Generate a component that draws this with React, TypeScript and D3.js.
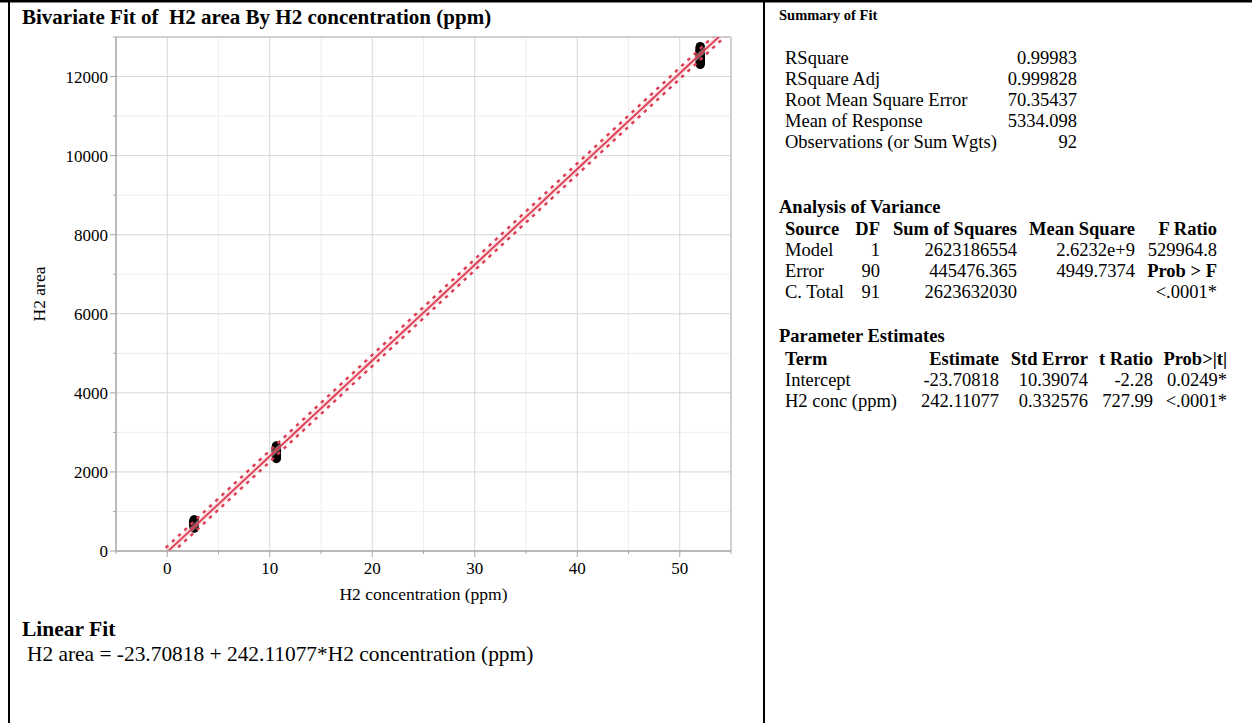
import React from "react";
import * as d3 from "d3";

// H2 concentration levels (ppm) and the measured peak areas at each level
const levelLow = 2.63;
const levelMid = 10.65;
const levelHigh = 52.0;

const areasLow = [612, 645, 668, 690, 701, 715, 722, 734, 748, 760, 771, 783, 655, 680, 697, 709, 726, 739, 752, 764, 590, 628, 661, 694, 705, 718, 731, 744, 757, 576, 789];
const areasMid = [2338, 2372, 2401, 2425, 2447, 2463, 2478, 2490, 2502, 2515, 2527, 2539, 2551, 2563, 2576, 2588, 2601, 2614, 2629, 2645, 2658, 2412, 2455, 2484, 2509, 2533, 2557, 2582, 2607, 2396, 2521];
const areasHigh = [12305, 12342, 12378, 12401, 12433, 12458, 12476, 12494, 12512, 12530, 12547, 12563, 12581, 12598, 12616, 12633, 12651, 12668, 12689, 12712, 12738, 12757, 12420, 12489, 12538, 12572, 12607, 12645, 12366, 12702];

// Linear fit results
const intercept = -23.70818;
const slope = 242.11077;
const rmse = 70.35437;
const nObs = 92;
const meanResponse = 5334.098;
const ssModel = 2623186554;
const tCrit = 1.987;

const xTicks = [0, 10, 20, 30, 40, 50];
const xMinorTicks = [-5, 5, 15, 25, 35, 45, 55];
const yTicks = [0, 2000, 4000, 6000, 8000, 10000, 12000];
const yMinorTicks = [1000, 3000, 5000, 7000, 9000, 11000, 13000];

const summaryLabels = ["RSquare", "RSquare Adj", "Root Mean Square Error", "Mean of Response", "Observations (or Sum Wgts)"];
const summaryValues = ["0.99983", "0.999828", "70.35437", "5334.098", "92"];

const anovaHeader = ["Source", "DF", "Sum of Squares", "Mean Square", "F Ratio"];
const anovaRows = [
  ["Model", "1", "2623186554", "2.6232e+9", "529964.8"],
  ["Error", "90", "445476.365", "4949.7374", "Prob > F"],
  ["C. Total", "91", "2623632030", "", "<.0001*"],
];

const paramHeader = ["Term", "Estimate", "Std Error", "t Ratio", "Prob>|t|"];
const paramRows = [
  ["Intercept", "-23.70818", "10.39074", "-2.28", "0.0249*"],
  ["H2 conc (ppm)", "242.11077", "0.332576", "727.99", "<.0001*"],
];

const W = 1252;
const H = 723;
const plot = { left: 116, right: 731, top: 37, bottom: 551 };
const serif = "'Liberation Serif', 'Times New Roman', serif";
const fitRed = "#dc3d52";
const tableFont = 18.5;

export default function App() {
  const x = d3.scaleLinear().domain([-5, 55]).range([plot.left, plot.right]);
  const y = d3.scaleLinear().domain([0, 13000]).range([plot.bottom, plot.top]);

  const points = [
    ...areasLow.map((v) => [levelLow, v]),
    ...areasMid.map((v) => [levelMid, v]),
    ...areasHigh.map((v) => [levelHigh, v]),
  ];

  const xBar = (meanResponse - intercept) / slope;
  const sxx = ssModel / (slope * slope);
  const grid = d3.range(-5, 55.01, 0.5);
  const fit = (v: number) => intercept + slope * v;
  const indiv = (v: number) => tCrit * rmse * Math.sqrt(1 + 1 / nObs + ((v - xBar) ** 2) / sxx);

  const line = d3.line<number>().x((v) => x(v)).y((v) => y(fit(v)));
  const upper = d3.line<number>().x((v) => x(v)).y((v) => y(fit(v) + indiv(v)));
  const lower = d3.line<number>().x((v) => x(v)).y((v) => y(fit(v) - indiv(v)));
  const band = d3
    .area<number>()
    .x((v) => x(v))
    .y0((v) => y(fit(v) - indiv(v) * 0.6))
    .y1((v) => y(fit(v) + indiv(v) * 0.6));

  const summaryY = [64, 85, 106, 127, 148];
  const anovaRight = [0, 880, 1017, 1135, 1217];
  const anovaY = [235, 256, 277, 298];
  const paramRight = [0, 999, 1088, 1153, 1227];
  const paramY = [365, 386, 407];

  return (
    <svg
      width={W}
      height={H}
      style={{ position: "absolute", left: 0, top: 0, background: "#fff" }}
      fontFamily={serif}
    >
      <defs>
        <clipPath id="plotClip">
          <rect x={plot.left} y={plot.top} width={plot.right - plot.left} height={plot.bottom - plot.top} />
        </clipPath>
      </defs>

      {/* outer report frame */}
      <rect x={0} y={0} width={W} height={2.5} fill="#000" />
      <rect x={8} y={0} width={2} height={H} fill="#000" />
      <rect x={763} y={0} width={2} height={H} fill="#000" />

      <text x={22} y={24} fontSize={21} fontWeight="bold" style={{ whiteSpace: "pre" }}>
        {"Bivariate Fit of  H2 area By H2 concentration (ppm)"}
      </text>

      {/* grid */}
      {xMinorTicks.map((t) => (
        <line key={"xm" + t} x1={x(t)} x2={x(t)} y1={plot.top} y2={plot.bottom} stroke="#eeeeee" />
      ))}
      {yMinorTicks.map((t) => (
        <line key={"ym" + t} x1={plot.left} x2={plot.right} y1={y(t)} y2={y(t)} stroke="#eeeeee" />
      ))}
      {xTicks.map((t) => (
        <line key={"xg" + t} x1={x(t)} x2={x(t)} y1={plot.top} y2={plot.bottom} stroke="#d6d6d6" />
      ))}
      {yTicks.map((t) => (
        <line key={"yg" + t} x1={plot.left} x2={plot.right} y1={y(t)} y2={y(t)} stroke="#d6d6d6" />
      ))}

      {/* frame */}
      <line x1={plot.left} x2={plot.right} y1={plot.top} y2={plot.top} stroke="#c4c4c4" strokeWidth={1.5} />
      <line x1={plot.right} x2={plot.right} y1={plot.top} y2={plot.bottom} stroke="#c4c4c4" strokeWidth={1.5} />

      {/* data points */}
      <g>
        {points.map((p, i) => (
          <circle key={i} cx={x(p[0])} cy={y(p[1])} r={4.6} fill="#000" />
        ))}
      </g>

      {/* fit line with shading and individual prediction limits */}
      <g clipPath="url(#plotClip)">
        <path d={band(grid) || ""} fill="#f5b9c2" opacity={0.5} />
        <path d={line(grid) || ""} fill="none" stroke={fitRed} strokeWidth={1.8} />
        <path d={upper(grid) || ""} fill="none" stroke={fitRed} strokeWidth={2.4} strokeDasharray="3.5,5" />
        <path d={lower(grid) || ""} fill="none" stroke={fitRed} strokeWidth={2.4} strokeDasharray="3.5,5" />
      </g>

      {/* axes */}
      <line x1={plot.left} x2={plot.left} y1={plot.top} y2={plot.bottom} stroke="#a9a9a9" strokeWidth={1.5} />
      <line x1={plot.left} x2={plot.right} y1={plot.bottom} y2={plot.bottom} stroke="#a9a9a9" strokeWidth={1.5} />
      {yTicks.map((t) => (
        <g key={"yt" + t}>
          <line x1={plot.left - 6} x2={plot.left} y1={y(t)} y2={y(t)} stroke="#a9a9a9" />
          <text x={plot.left - 8} y={y(t) + 6} fontSize={17} textAnchor="end">
            {t}
          </text>
        </g>
      ))}
      {yMinorTicks.map((t) => (
        <line key={"ymt" + t} x1={plot.left - 3} x2={plot.left} y1={y(t)} y2={y(t)} stroke="#a9a9a9" />
      ))}
      {xTicks.map((t) => (
        <g key={"xt" + t}>
          <line x1={x(t)} x2={x(t)} y1={plot.bottom} y2={plot.bottom + 6} stroke="#a9a9a9" />
          <text x={x(t)} y={plot.bottom + 23} fontSize={17} textAnchor="middle">
            {t}
          </text>
        </g>
      ))}
      {xMinorTicks.map((t) => (
        <line key={"xmt" + t} x1={x(t)} x2={x(t)} y1={plot.bottom} y2={plot.bottom + 3} stroke="#a9a9a9" />
      ))}
      <text x={(plot.left + plot.right) / 2} y={600} fontSize={17.5} textAnchor="middle">
        H2 concentration (ppm)
      </text>
      <text transform={`translate(45, ${(plot.top + plot.bottom) / 2}) rotate(-90)`} fontSize={17.5} textAnchor="middle">
        H2 area
      </text>

      <text x={22} y={636} fontSize={21.5} fontWeight="bold">
        Linear Fit
      </text>
      <text x={27} y={661} fontSize={21.4}>
        H2 area = -23.70818 + 242.11077*H2 concentration (ppm)
      </text>

      {/* Summary of Fit */}
      <text x={779} y={20} fontSize={14.5} fontWeight="bold">
        Summary of Fit
      </text>
      {summaryLabels.map((lab, i) => (
        <g key={lab}>
          <text x={785} y={summaryY[i]} fontSize={tableFont}>
            {lab}
          </text>
          <text x={1077} y={summaryY[i]} fontSize={tableFont} textAnchor="end">
            {summaryValues[i]}
          </text>
        </g>
      ))}

      {/* Analysis of Variance */}
      <text x={779} y={213} fontSize={tableFont} fontWeight="bold">
        Analysis of Variance
      </text>
      {[anovaHeader, ...anovaRows].map((row, r) =>
        row.map((cell, c) => (
          <text
            key={"a" + r + "-" + c}
            x={c === 0 ? 785 : anovaRight[c]}
            y={anovaY[r]}
            fontSize={tableFont}
            textAnchor={c === 0 ? "start" : "end"}
            fontWeight={r === 0 || cell === "Prob > F" ? "bold" : "normal"}
          >
            {cell}
          </text>
        ))
      )}

      {/* Parameter Estimates */}
      <text x={779} y={342} fontSize={tableFont} fontWeight="bold">
        Parameter Estimates
      </text>
      {[paramHeader, ...paramRows].map((row, r) =>
        row.map((cell, c) => (
          <text
            key={"p" + r + "-" + c}
            x={c === 0 ? 785 : paramRight[c]}
            y={paramY[r]}
            fontSize={tableFont}
            textAnchor={c === 0 ? "start" : "end"}
            fontWeight={r === 0 ? "bold" : "normal"}
          >
            {cell}
          </text>
        ))
      )}
    </svg>
  );
}
